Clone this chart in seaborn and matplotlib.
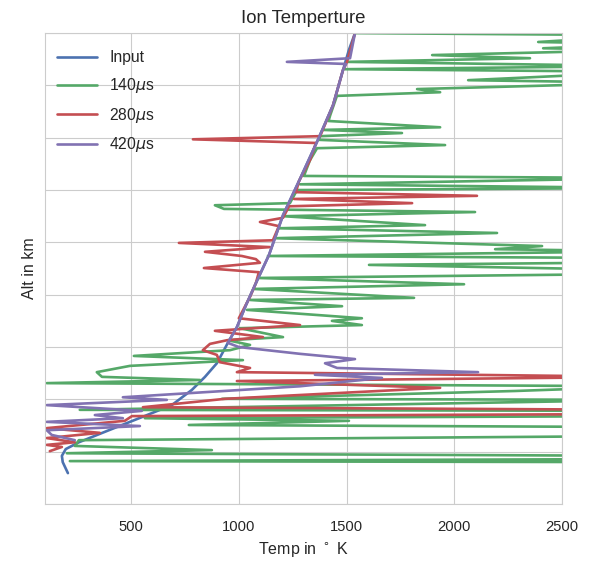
import matplotlib
matplotlib.use("Agg")
import matplotlib.pyplot as plt
import seaborn as sns
import pandas as pd

# altitude (km) and temperature (K)
input_alt = [159, 180, 192, 205, 218, 241, 266, 289, 318, 343, 369, 394, 408, 438,
             480, 522, 576, 652, 717, 796, 862, 929, 968, 1000]
input_temp = [207, 183, 179, 197, 258, 397, 550, 689, 782, 843, 898, 931, 949, 991,
              1033, 1079, 1140, 1205, 1279, 1367, 1437, 1483, 1511, 1539]

t140_alt = [1000, 996, 983, 979, 971, 968, 958, 952, 945, 937, 931, 926, 910, 905,
            893, 887, 880, 843, 832, 820, 815, 809, 803, 796, 786, 780, 757, 727,
            723, 711, 704, 700, 675, 671, 664, 658, 650, 633, 627, 618, 608, 593,
            587, 583, 574, 570, 562, 557, 547, 540, 532, 520, 511, 494, 490, 478,
            471, 455, 450, 442, 436, 419, 413, 404, 394, 383, 375, 364, 352, 343,
            337, 331, 325, 316, 301, 299, 280, 278, 268, 264, 259, 251, 247, 230,
            222, 211, 203, 197, 192, 186, 182, 180]
t140_temp = [1539, 2900, 2389, 2900, 2412, 2900, 1897, 2351, 1502, 2900, 1493, 2900,
             2064, 2900, 1827, 1934, 1455, 1424, 1416, 1934, 1391, 1757, 1377, 1372,
             1957, 1363, 1330, 1302, 2900, 1284, 2900, 1270, 1237, 889, 931, 2096,
             1209, 1864, 1186, 2198, 1168, 2407, 2189, 2900, 1135, 2900, 2900, 1604,
             2900, 2900, 1089, 2045, 1070, 1813, 1052, 1479, 1038, 1571, 1432, 1571,
             1005, 1205, 949, 1052, 959, 513, 1019, 495, 341, 365, 820, 109, 2900,
             2282, 922, 2900, 262, 2900, 2900, 564, 1511, 768, 2900, 2900, 258, 239,
             875, 202, 2900, 2900, 216, 2900]

t280_alt = [1000, 945, 929, 862, 803, 797, 790, 757, 717, 696, 689, 683, 675, 669,
            647, 639, 631, 604, 599, 591, 582, 574, 568, 561, 551, 543, 522, 496,
            455, 442, 431, 419, 413, 406, 394, 385, 371, 360, 352, 343, 335, 322,
            301, 285, 280, 272, 268, 259, 245, 236, 226, 218, 213, 209, 201]
t280_temp = [1539, 1502, 1483, 1437, 1377, 787, 1358, 1330, 1279, 1265, 2105, 1256,
             1804, 1233, 1205, 1098, 1186, 1158, 722, 1144, 843, 1014, 1079, 1098,
             838, 1093, 1079, 1052, 1000, 1284, 889, 1112, 945, 866, 833, 898, 912,
             1052, 991, 2900, 991, 1934, 936, 555, 2900, 2900, 504, 471, 109, 355,
             109, 239, 109, 179, 123]

t420_alt = [1000, 952, 945, 941, 929, 862, 796, 717, 652, 576, 522, 480, 438, 408,
            400, 387, 377, 369, 360, 352, 347, 341, 325, 304, 299, 289, 278, 270,
            264, 257, 249, 241, 232, 222]
t420_temp = [1539, 1516, 1223, 1497, 1483, 1437, 1367, 1279, 1205, 1140, 1079, 1033,
             991, 949, 1000, 1284, 1539, 1400, 1456, 2110, 1353, 1664, 1284, 462,
             666, 109, 550, 332, 462, 109, 541, 109, 132, 239]

labels = ["Input", r"140$\mu$s", r"280$\mu$s", r"420$\mu$s"]
colors = ["#4C72B0", "#55A868", "#C44E52", "#8172B2"]

series = [(input_temp, input_alt), (t140_temp, t140_alt),
          (t280_temp, t280_alt), (t420_temp, t420_alt)]

sns.set_style("whitegrid")
plt.rcParams["font.family"] = ["Liberation Sans", "DejaVu Sans"]

fig = plt.figure(figsize=(5.98, 5.61), dpi=100)
ax = fig.add_axes([0.075, 0.1016, 0.865, 0.8394])

for (temp, alt), lab, col in zip(series, labels, colors):
    df = pd.DataFrame({"temp": temp, "alt": alt})
    sns.lineplot(data=df, x="temp", y="alt", sort=False, estimator=None,
                 color=col, lw=1.9, label=lab, ax=ax)

ax.set_xlim(100, 2500)
ax.set_ylim(100, 1000)
ax.set_xticks([500, 1000, 1500, 2000, 2500])
ax.set_yticks(range(100, 1001, 100))
ax.set_yticklabels([])
ax.tick_params(axis="x", labelsize=10.6, pad=8)
ax.set_title("Ion Temperture", fontsize=13.4, pad=7)
ax.set_xlabel(r"Temp in $^\circ$ K", fontsize=11.5)
ax.set_ylabel("Alt in km", fontsize=11.5, labelpad=-1)
ax.legend(loc="upper left", frameon=False, fontsize=11.3, labelspacing=0.68,
          handlelength=2.5, borderaxespad=0.4, bbox_to_anchor=(0.0, 0.99))

fig.savefig("out.png", dpi=100)
